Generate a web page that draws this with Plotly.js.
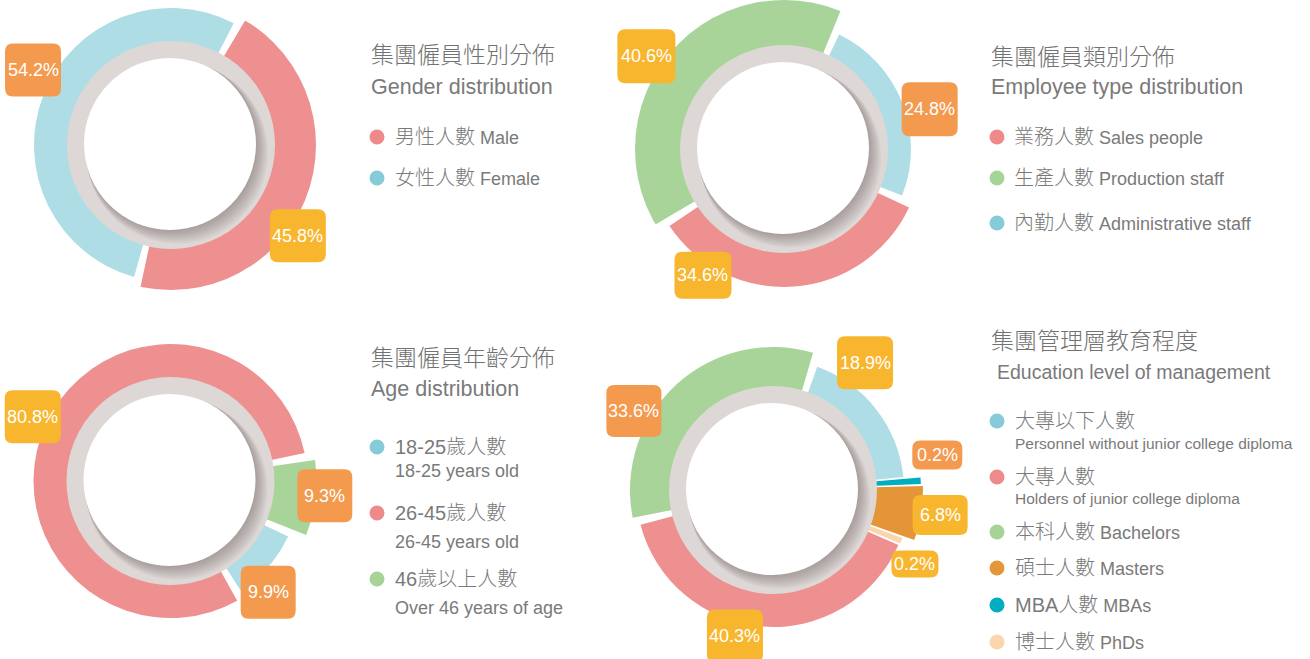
<!DOCTYPE html>
<html>
<head>
<meta charset="utf-8">
<script src="https://cdn.plot.ly/plotly-3.0.1.min.js"></script>
<style>html,body{margin:0;padding:0;background:#fff;}#chart{width:1310px;height:659px;}</style>
</head>
<body>
<div id="chart"></div>
<script>
// ---------------- DATA ----------------
// Chart 1: gender
const genderTitle = '集團僱員性別分佈';
const genderTitleEn = 'Gender distribution';
const genderCats = ['男性人數', '女性人數'];
const genderCatsEn = ['Male', 'Female'];
const genderValues = [45.8, 54.2];

// Chart 2: employee type
const typeTitle = '集團僱員類別分佈';
const typeTitleEn = 'Employee type distribution';
const typeCats = ['業務人數', '生產人數', '內勤人數'];
const typeCatsEn = ['Sales people', 'Production staff', 'Administrative staff'];
const typeValues = [34.6, 40.6, 24.8];

// Chart 3: age
const ageTitle = '集團僱員年齡分佈';
const ageTitleEn = 'Age distribution';
const ageCats = ['18-25歲人數', '26-45歲人數', '46歲以上人數'];
const ageCatsEn = ['18-25 years old', '26-45 years old', 'Over 46 years of age'];
const ageValues = [9.9, 80.8, 9.3];

// Chart 4: education of management
const eduTitle = '集團管理層教育程度';
const eduTitleEn = 'Education level of management';
const eduCats = ['大專以下人數', '大專人數', '本科人數', '碩士人數', 'MBA人數', '博士人數'];
const eduCatsEn = ['Personnel without junior college diploma', 'Holders of junior college diploma', 'Bachelors', 'Masters', 'MBAs', 'PhDs'];
const eduValues = [18.9, 40.3, 33.6, 6.8, 0.2, 0.2];

// ---------------- STYLE ----------------
const W = 1310, HP = 659;
const FONT = '"Liberation Sans", "Noto Sans CJK TC", sans-serif';
const TXT = '#7a7a7a';
const ORANGE = '#f39a4f', YELLOW = '#f8b62e';
const C = {
  pink: '#ef9090', blue: '#aedde6', green: '#a8d399',
  masters: '#e39538', mba: '#00aebf', phd: '#fbd5ad'
};
const DOT = {
  pink: '#ee8a8a', blue: '#86ccd8', green: '#a6d497',
  masters: '#e3963a', mba: '#00aebf', phd: '#fbd5ac'
};
const BASE = 92, GAP = 3.5, MIN_SWEEP = 2.5;

const charts = [
  { values: genderValues, cx: 171, cy: 145, start: 29, order: [0, 1],
    colors: ['pink', 'blue'], outer: [147, 137],
    labelColor: [YELLOW, ORANGE], labelAngle: [125.6, 298.5], labelR: [156, 157],
    boxW: [56, 56], boxH: [53, 53] },
  { values: typeValues, cx: 784, cy: 149, start: 24, order: [2, 0, 1],
    colors: ['pink', 'green', 'blue'], outer: [138, 150, 127],
    labelColor: [YELLOW, YELLOW, ORANGE], labelAngle: [212.7, 304, 74.7], labelR: [150, 166, 151],
    boxW: [57, 58, 56], boxH: [47, 54, 54] },
  { values: ageValues, cx: 170.5, cy: 481, start: 80, order: [2, 0, 1],
    colors: ['blue', 'pink', 'green'], outer: [130, 137, 146],
    labelColor: [ORANGE, YELLOW, ORANGE], labelAngle: [138.7, 295, 95.5], labelR: [148, 152, 155],
    boxW: [55, 56, 55], boxH: [53, 53, 53] },
  { values: eduValues, cx: 773, cy: 490, start: 18, order: [0, 4, 3, 5, 1, 2],
    colors: ['blue', 'pink', 'green', 'masters', 'mba', 'phd'], outer: [131, 137, 143, 150, 148, 138],
    labelColor: [YELLOW, YELLOW, ORANGE, YELLOW, ORANGE, YELLOW],
    labelAngle: [35.9, 194.6, 299.6, 98.5, 77.95, 117.5], labelR: [157, 151, 160, 169, 168, 160],
    boxW: [56, 56, 55, 55, 50, 47], boxH: [53, 53, 52, 40, 29, 27] }
];

const px = x => x / W;
const py = y => 1 - y / HP;

const data = [];
const layout = {
  width: W, height: HP, margin: { l: 0, r: 0, t: 0, b: 0 },
  paper_bgcolor: '#ffffff', showlegend: false,
  shapes: [], annotations: [],
  font: { family: FONT, color: TXT }
};

function rrPath(w, h, r) {
  const a = w / 2, b = h / 2;
  return `M ${-a + r},${-b} L ${a - r},${-b} Q ${a},${-b} ${a},${-b + r} L ${a},${b - r} Q ${a},${b} ${a - r},${b} ` +
         `L ${-a + r},${b} Q ${-a},${b} ${-a},${b - r} L ${-a},${-b + r} Q ${-a},${-b} ${-a + r},${-b} Z`;
}
function circ(cx, cy, r, color, dx = 0, dy = 0) {
  return { type: 'circle', xref: 'paper', yref: 'paper', xsizemode: 'pixel', ysizemode: 'pixel',
    xanchor: px(cx), yanchor: py(cy), x0: dx - r, x1: dx + r, y0: -dy - r, y1: -dy + r,
    fillcolor: color, line: { width: 0 }, layer: 'above' };
}

charts.forEach((c, k) => {
  const pid = k === 0 ? 'polar' : 'polar' + (k + 1);
  const H = Math.min(150, c.cx, c.cy, W - c.cx, HP - c.cy);
  let cum = c.start;
  const th = [], wd = [], rr = [], bs = [], cl = [];
  c.order.forEach(i => {
    const sweep = c.values[i] * 3.6;
    th.push(cum + sweep / 2);
    wd.push(Math.max(sweep - GAP, MIN_SWEEP));
    rr.push(c.outer[i] - BASE);
    bs.push(BASE);
    cl.push(C[c.colors[i]]);
    cum += sweep;
  });
  data.push({ type: 'barpolar', subplot: pid, theta: th, r: rr, base: bs, width: wd,
    marker: { color: cl, line: { width: 0 } }, hoverinfo: 'skip' });
  layout[pid] = {
    domain: { x: [px(c.cx - H), px(c.cx + H)], y: [py(c.cy + H), py(c.cy - H)] },
    bgcolor: 'rgba(0,0,0,0)',
    radialaxis: { visible: false, range: [0, H], showgrid: false, showline: false, showticklabels: false, ticks: '' },
    angularaxis: { visible: false, rotation: 90, direction: 'clockwise', showgrid: false, showline: false, showticklabels: false, ticks: '' }
  };
  // inner ring with shadow
  layout.shapes.push(circ(c.cx, c.cy, 104, '#ddd8d6'));
  for (let s = 1; s <= 8; s++) {
    layout.shapes.push(circ(c.cx, c.cy, 86 + s * 0.6, 'rgba(85,72,72,0.055)', s * 0.9 - 1, s * 1.1 - 1));
  }
  layout.shapes.push(circ(c.cx, c.cy, 86, '#ffffff', -1, -1));
  // value labels
  c.values.forEach((v, i) => {
    const a = c.labelAngle[i] * Math.PI / 180;
    const lx = c.cx + c.labelR[i] * Math.sin(a);
    const ly = c.cy - c.labelR[i] * Math.cos(a);
    layout.shapes.push({ type: 'path', xref: 'paper', yref: 'paper', xsizemode: 'pixel', ysizemode: 'pixel',
      xanchor: px(lx), yanchor: py(ly), path: rrPath(c.boxW[i], c.boxH[i], 8),
      fillcolor: c.labelColor[i], line: { width: 0 }, layer: 'above' });
    layout.annotations.push({ xref: 'paper', yref: 'paper', x: px(lx), y: py(ly), xanchor: 'center', yanchor: 'middle',
      showarrow: false, text: v.toFixed(1) + '%', font: { family: FONT, size: 18, color: '#ffffff', weight: 300 } });
  });
});

// ---------------- LEGEND TEXT ----------------
function txt(x, y, text, size, color) {
  layout.annotations.push({ xref: 'paper', yref: 'paper', x: px(x), y: py(y), xanchor: 'left', yanchor: 'middle',
    showarrow: false, text: text, font: { family: FONT, size: size, color: color || TXT, weight: 300 } });
}
function dot(x, y, color) { layout.shapes.push(circ(x, y, 7.5, color)); }
const cn = s => `<span style="font-size:20px">${s}</span>`;

// chart 1
txt(369, 55, genderTitle, 23, '#727272');
txt(369, 87, genderTitleEn, 21.5);
[137, 178].forEach((y, i) => { dot(377, y, DOT[charts[0].colors[i]]); txt(393, y, cn(genderCats[i]) + ' ' + genderCatsEn[i], 18); });

// chart 2
txt(989, 57, typeTitle, 23, '#727272');
txt(989, 87, typeTitleEn, 21.5);
[137, 178, 223].forEach((y, i) => { dot(997, y, DOT[charts[1].colors[i]]); txt(1012, y, cn(typeCats[i]) + ' ' + typeCatsEn[i], 18); });

// chart 3
txt(369, 358, ageTitle, 23, '#727272');
txt(369, 389, ageTitleEn, 21.5);
[[447, 471], [513, 542], [579, 608]].forEach((p, i) => {
  dot(377, p[0], DOT[charts[2].colors[i]]);
  txt(393, p[0], cn(ageCats[i]), 20);
  txt(393, p[1], ageCatsEn[i], 18);
});

// chart 4
txt(989, 341, eduTitle, 23, '#727272');
txt(995, 372, eduTitleEn, 19.5);
const eduY = [421, 477, 532, 568, 605, 642];
const eduSubY = [443, 498];
eduY.forEach((y, i) => {
  dot(997, y, DOT[charts[3].colors[i]]);
  if (i < 2) {
    txt(1013, y, cn(eduCats[i]), 20);
    txt(1013, eduSubY[i], eduCatsEn[i], 15.5);
  } else {
    txt(1013, y, cn(eduCats[i]) + ' ' + eduCatsEn[i], 18);
  }
});

Plotly.newPlot('chart', data, layout, { displayModeBar: false, staticPlot: true });
</script>
</body>
</html>
